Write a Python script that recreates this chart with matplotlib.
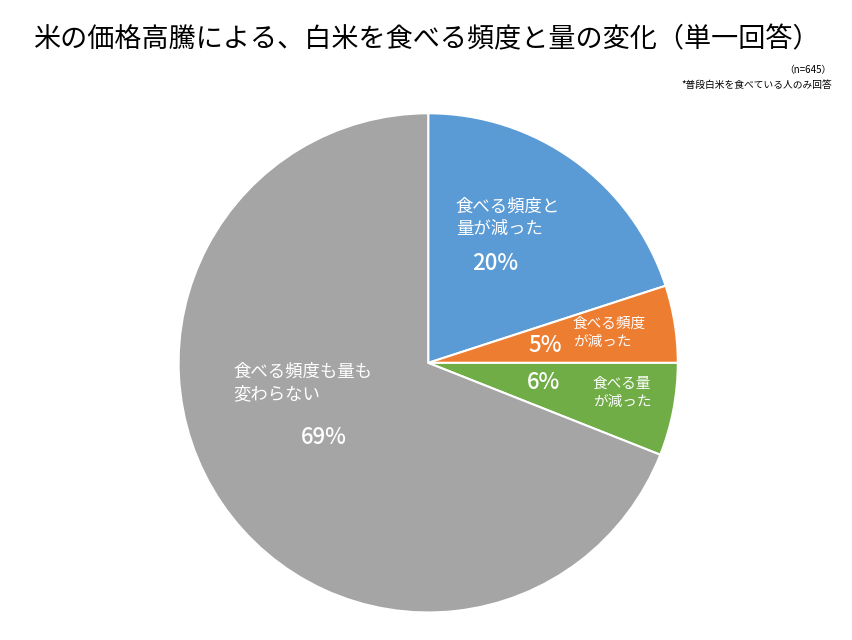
import matplotlib.pyplot as plt

plt.rcParams['font.family'] = ['Noto Sans CJK JP', 'DejaVu Sans']

labels = ["食べる頻度と\n量が減った", "食べる頻度\nが減った", "食べる量\nが減った", "食べる頻度も量も\n変わらない"]
values = [20, 5, 6, 69]
colors = ["#5B9BD5", "#ED7D31", "#70AD47", "#A5A5A5"]

fig = plt.figure(figsize=(8.53, 6.4), dpi=100)
ax = fig.add_axes([0.502 - 0.293, 0.433 - 0.39, 0.586, 0.78])
ax.pie(values, colors=colors, startangle=90, counterclock=False,
       wedgeprops=dict(edgecolor="white", linewidth=1.5))
ax.set_xlim(-1, 1)
ax.set_ylim(-1, 1)
ax.set_aspect("equal")

# label positions (pie units)
name_pos = [(0.11, 0.58), (0.58, 0.12), (0.66, -0.12), (-0.78, -0.08)]
pct_pos = [(0.27, 0.40), (0.47, 0.07), (0.46, -0.08), (-0.42, -0.30)]
for lab, v, (nx, ny), (px, py) in zip(labels, values, name_pos, pct_pos):
    small = v < 10
    ax.text(nx, ny, lab, color="white", fontsize=10.5 if small else 12.5,
            ha="left", va="center", linespacing=1.3)
    ax.text(px, py, f"{v}%", color="white", fontsize=16,
            ha="center", va="center", fontweight="medium")

fig.text(0.5, 0.937, "米の価格高騰による、白米を食べる頻度と量の変化（単一回答）",
         ha="center", va="center", fontsize=19.5)
fig.text(0.975, 0.89, "（n=645）", ha="right", va="center", fontsize=7)
fig.text(0.975, 0.868, "*普段白米を食べている人のみ回答", ha="right", va="center", fontsize=7)

fig.savefig("out.png", dpi=100)
